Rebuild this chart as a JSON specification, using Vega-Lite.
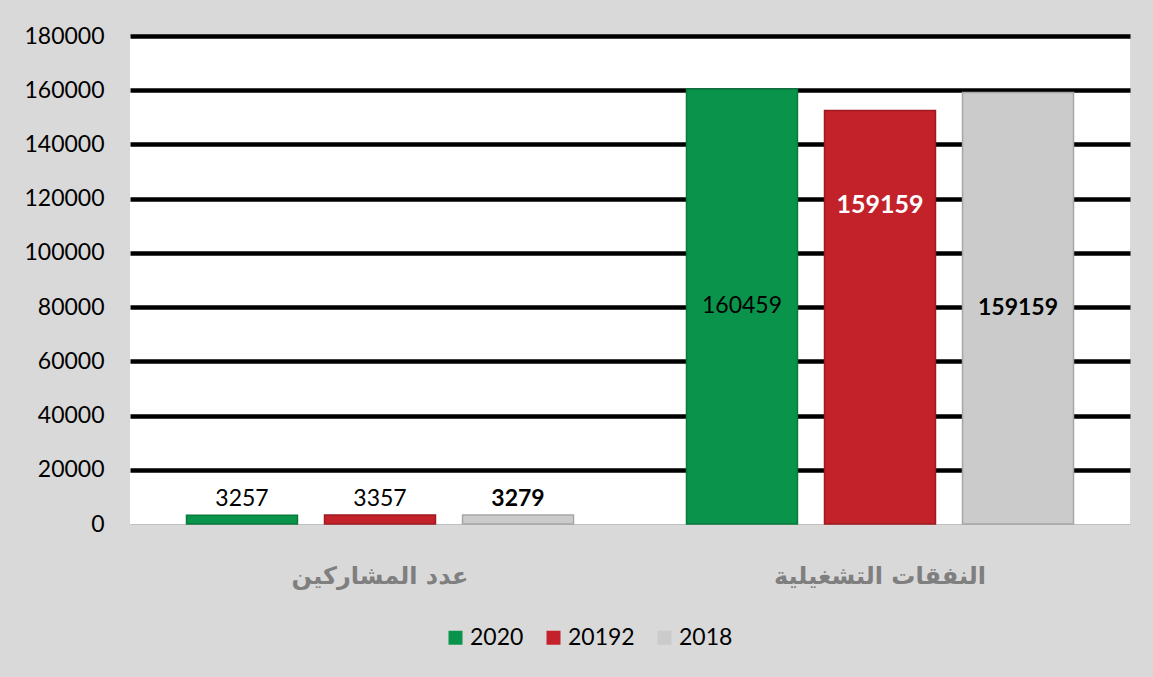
{
  "$schema": "https://vega.github.io/schema/vega-lite/v6.json",
  "autosize": {"type": "none"},
  "width": 1000,
  "height": 488,
  "padding": {"left": 130, "top": 36, "right": 23, "bottom": 153},
  "background": "#d9d9d9",
  "config": {
    "view": {"fill": "white", "stroke": null},
    "font": "Lato"
  },
  "data": {
    "values": [
      {"cat": "عدد المشاركين", "series": "2020", "value": 3257, "label": "3257"},
      {"cat": "عدد المشاركين", "series": "20192", "value": 3357, "label": "3357"},
      {"cat": "عدد المشاركين", "series": "2018", "value": 3279, "label": "3279"},
      {"cat": "النفقات التشغيلية", "series": "2020", "value": 160459, "label": "160459"},
      {"cat": "النفقات التشغيلية", "series": "20192", "value": 152500, "label": "159159"},
      {"cat": "النفقات التشغيلية", "series": "2018", "value": 159159, "label": "159159"}
    ]
  },
  "encoding": {
    "x": {
      "field": "cat", "type": "nominal",
      "sort": ["عدد المشاركين", "النفقات التشغيلية"],
      "scale": {"paddingInner": 0.226, "paddingOuter": 0.113},
      "axis": {
        "title": null, "labelAngle": 0, "ticks": false, "labelLimit": 0,
        "domainColor": "#bfbfbf", "domainWidth": 1,
        "labelFont": "DejaVu Sans", "labelFontSize": 24, "labelFontWeight": "bold",
        "labelColor": "#7f7f7f", "labelPadding": 52, "labelBaseline": "middle"
      }
    },
    "xOffset": {
      "field": "series", "type": "nominal",
      "sort": ["2020", "20192", "2018"],
      "scale": {"paddingInner": 0.196, "paddingOuter": 0}
    },
    "y": {
      "field": "value", "type": "quantitative",
      "scale": {"domain": [0, 180000], "nice": false},
      "axis": {
        "title": null, "values": [0, 20000, 40000, 60000, 80000, 100000, 120000, 140000, 160000, 180000],
        "format": "d", "ticks": false, "domain": false,
        "labelFont": "Lato", "labelFontSize": 23, "labelColor": "#000000", "labelPadding": 26,
        "gridColor": {"condition": {"test": "datum.value === 0", "value": "transparent"}, "value": "#000000"},
        "gridWidth": 4.5, "gridOpacity": 1
      }
    }
  },
  "layer": [
    {
      "mark": {"type": "bar", "strokeWidth": 1.5},
      "encoding": {
        "color": {
          "field": "series", "type": "nominal",
          "sort": ["2020", "20192", "2018"],
          "scale": {"domain": ["2020", "20192", "2018"], "range": ["#0a944b", "#c3222b", "#cbcbcb"]},
          "legend": {
            "title": null, "orient": "none", "direction": "horizontal",
            "legendX": 314, "legendY": 590,
            "symbolType": "square", "symbolSize": 196, "symbolStrokeWidth": 0,
            "labelFont": "Lato", "labelFontSize": 23, "labelColor": "#000000",
            "columnPadding": 18, "labelOffset": 3
          }
        },
        "stroke": {
          "field": "series", "type": "nominal",
          "scale": {"domain": ["2020", "20192", "2018"], "range": ["#077a3c", "#9e1a21", "#a6a6a6"]},
          "legend": null
        }
      }
    },
    {
      "transform": [{"filter": "datum.cat === 'عدد المشاركين' && datum.series !== '2018'"}],
      "mark": {"type": "text", "baseline": "bottom", "dy": -4, "fontSize": 23, "font": "Lato", "color": "#000000"},
      "encoding": {"text": {"field": "label"}}
    },
    {
      "transform": [{"filter": "datum.cat === 'عدد المشاركين' && datum.series === '2018'"}],
      "mark": {"type": "text", "baseline": "bottom", "dy": -4, "fontSize": 23, "font": "Lato", "fontWeight": "bold", "color": "#000000"},
      "encoding": {"text": {"field": "label"}}
    },
    {
      "transform": [
        {"filter": "datum.cat === 'النفقات التشغيلية' && datum.series === '2020'"},
        {"calculate": "datum.value / 2", "as": "mid"}
      ],
      "mark": {"type": "text", "baseline": "middle", "fontSize": 23, "font": "Lato", "color": "#000000"},
      "encoding": {
        "y": {"field": "mid", "type": "quantitative"},
        "text": {"field": "label"}
      }
    },
    {
      "transform": [
        {"filter": "datum.cat === 'النفقات التشغيلية' && datum.series === '2018'"},
        {"calculate": "datum.value / 2", "as": "mid"}
      ],
      "mark": {"type": "text", "baseline": "middle", "fontSize": 23, "font": "Lato", "fontWeight": "bold", "color": "#000000"},
      "encoding": {
        "y": {"field": "mid", "type": "quantitative"},
        "text": {"field": "label"}
      }
    },
    {
      "transform": [{"filter": "datum.cat === 'النفقات التشغيلية' && datum.series === '20192'"}],
      "mark": {"type": "text", "baseline": "middle", "dy": 94, "fontSize": 25, "font": "Lato", "fontWeight": "bold", "color": "#ffffff"},
      "encoding": {"text": {"field": "label"}}
    }
  ]
}
